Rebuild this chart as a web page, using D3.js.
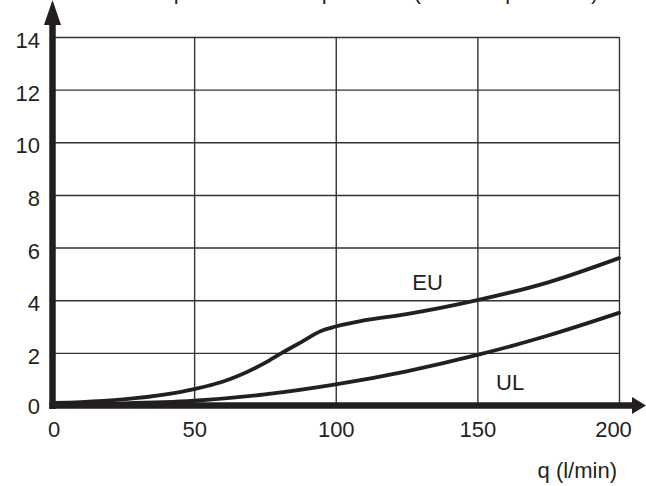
<!DOCTYPE html>
<html>
<head>
<meta charset="utf-8">
<script src="https://cdn.jsdelivr.net/npm/d3@7"></script>
<style>
  body { margin: 0; background: #fff; }
  svg { display: block; font-family: "Liberation Sans", Arial, Helvetica, sans-serif; }
</style>
</head>
<body>
<div id="chart"></div>
<script>

// flow rate q (l/min) and pressure drop values
var flowEU = [0, 10, 25, 40, 50, 55, 60, 65, 75, 81, 88, 95, 100, 110, 125, 150, 175, 200];
var dpEU   = [0.1, 0.13, 0.23, 0.42, 0.62, 0.75, 0.9, 1.1, 1.62, 2.0, 2.42, 2.84, 3.0, 3.23, 3.47, 4.0, 4.68, 5.6];

var flowUL = [0, 25, 50, 75, 100, 125, 150, 175, 200];
var dpUL   = [0.05, 0.08, 0.18, 0.42, 0.8, 1.3, 1.92, 2.66, 3.52];

var xTicks = [0, 50, 100, 150, 200];
var yTicks = [0, 2, 4, 6, 8, 10, 12, 14];

var width = 646;
var height = 486;
var ink = '#231f20';

var x = d3.scaleLinear().domain([0, 200]).range([52.5, 619]);
var y = d3.scaleLinear().domain([0, 14]).range([405.5, 37]);

var svg = d3.select('#chart')
  .append('svg')
  .attr('width', width)
  .attr('height', height);

// title sits above the picture, only the descenders show
svg.append('text')
  .attr('x', 159)
  .attr('y', -1.2)
  .attr('font-size', 22)
  .attr('fill', ink)
  .text('Δp = Differential pressure (element pressure)');

// horizontal grid + y labels
var yAxis = svg.append('g')
  .attr('transform', 'translate(' + x(0) + ',0)')
  .call(d3.axisLeft(y)
    .tickValues(yTicks)
    .tickSize(-(x(200) - x(0)))
    .tickPadding(12.5)
    .tickFormat(d3.format('d')));

yAxis.select('.domain').remove();
yAxis.selectAll('line')
  .attr('stroke', '#333')
  .attr('stroke-width', 1.4)
  .filter(function(d) { return d === 0; }).remove();
yAxis.selectAll('text')
  .attr('font-size', 22)
  .attr('font-family', null)
  .attr('fill', ink)
  .attr('dy', function(d) { return d === 0 ? '0.36em' : '0.48em'; });

// vertical grid + x labels
var xAxis = svg.append('g')
  .attr('transform', 'translate(0,' + y(0) + ')')
  .call(d3.axisBottom(x)
    .tickValues(xTicks)
    .tickSize(-(y(0) - y(14)))
    .tickPadding(16)
    .tickFormat(d3.format('d')));

xAxis.select('.domain').remove();
xAxis.selectAll('line')
  .attr('stroke', '#333')
  .attr('stroke-width', 1.4)
  .filter(function(d) { return d === 0; }).remove();
xAxis.selectAll('text')
  .attr('font-size', 22)
  .attr('font-family', null)
  .attr('fill', ink)
  .attr('dx', function(d) { return d === 200 ? -6 : (d === 0 ? 1 : 0); });

// curves
var line = d3.line()
  .x(function(d) { return x(d[0]); })
  .y(function(d) { return y(d[1]); })
  .curve(d3.curveMonotoneX);

var series = [d3.zip(flowEU, dpEU), d3.zip(flowUL, dpUL)];

svg.selectAll('path.curve')
  .data(series)
  .enter()
  .append('path')
  .attr('class', 'curve')
  .attr('d', line)
  .attr('fill', 'none')
  .attr('stroke', ink)
  .attr('stroke-width', 3.8)
  .attr('stroke-linecap', 'round');

// thick axes with arrow heads
svg.append('line')
  .attr('x1', x(0)).attr('x2', x(0))
  .attr('y1', 24).attr('y2', y(0) + 3.5)
  .attr('stroke', ink)
  .attr('stroke-width', 6.5);

svg.append('line')
  .attr('x1', x(0) - 3.2).attr('x2', 634)
  .attr('y1', y(0)).attr('y2', y(0))
  .attr('stroke', ink)
  .attr('stroke-width', 6.5);

svg.append('path')
  .attr('d', 'M' + x(0) + ',0 L' + (x(0) + 8.5) + ',25 L' + (x(0) - 8.5) + ',25 Z')
  .attr('fill', ink);

svg.append('path')
  .attr('d', 'M646,' + y(0) + ' L632,' + (y(0) - 8.5) + ' L632,' + (y(0) + 8.5) + ' Z')
  .attr('fill', ink);

// curve labels
svg.append('text')
  .attr('x', x(127))
  .attr('y', y(4.39))
  .attr('font-size', 22)
  .attr('fill', ink)
  .text('EU');

svg.append('text')
  .attr('x', x(156.6))
  .attr('y', y(0.59))
  .attr('font-size', 22)
  .attr('fill', ink)
  .text('UL');

// x axis title
svg.append('text')
  .attr('x', 617)
  .attr('y', 478)
  .attr('text-anchor', 'end')
  .attr('font-size', 22)
  .attr('fill', ink)
  .text('q (l/min)');

</script>
</body>
</html>
